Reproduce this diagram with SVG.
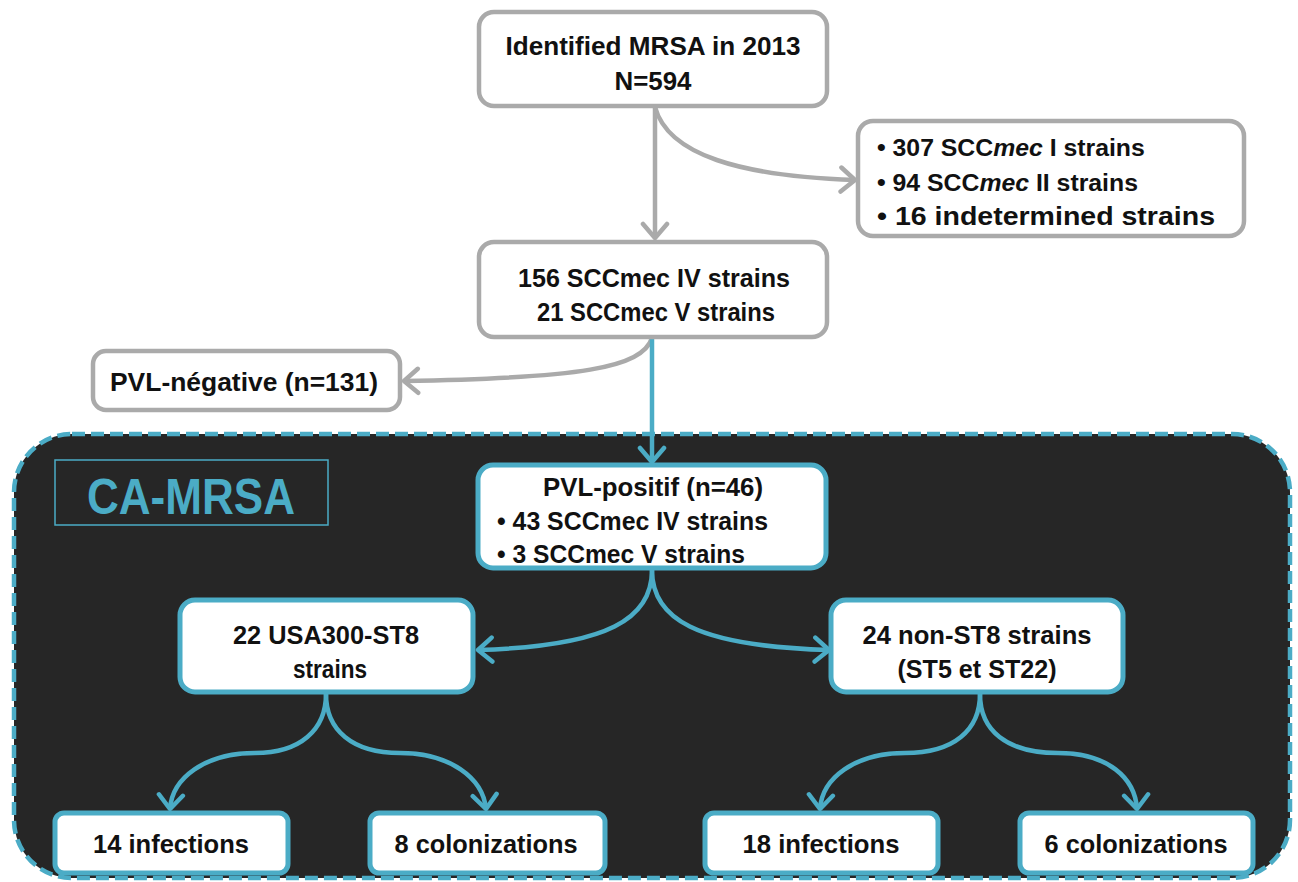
<svg xmlns="http://www.w3.org/2000/svg" width="1298" height="882" viewBox="0 0 1298 882">
<style>
.t{font-family:"Liberation Sans",Arial,sans-serif;font-weight:bold;font-size:26.5px;fill:#111}
.gb{fill:#fff;stroke:#aaaaaa;stroke-width:4.5}
.bb{fill:#fff;stroke:#4bacc6;stroke-width:5}
.gc{fill:none;stroke:#aaaaaa;stroke-width:4.5}
.bc{fill:none;stroke:#4bacc6;stroke-width:4.5}
</style>
<defs>
<marker id="ag" markerWidth="26" markerHeight="30" refX="17" refY="15" orient="auto" markerUnits="userSpaceOnUse">
<path d="M3,3 L17,15 L3,27" fill="none" stroke="#aaaaaa" stroke-width="4.5" stroke-linecap="round" stroke-linejoin="round"/>
</marker>
<marker id="ab" markerWidth="26" markerHeight="30" refX="17" refY="15" orient="auto" markerUnits="userSpaceOnUse">
<path d="M3,3 L17,15 L3,27" fill="none" stroke="#4bacc6" stroke-width="4.5" stroke-linecap="round" stroke-linejoin="round"/>
</marker>
</defs>
<rect width="1298" height="882" fill="#fff"/>
<g id="ca-mrsa-region">
<rect x="14" y="434" width="1276" height="444" rx="58" fill="#262626" stroke="#4bacc6" stroke-width="4.5" stroke-dasharray="13 6"/>
<rect x="55" y="460" width="273" height="65" fill="none" stroke="#4bacc6" stroke-width="1.5"/>
<text x="191" y="514" text-anchor="middle" textLength="208" lengthAdjust="spacingAndGlyphs" style="font-family:'Liberation Sans',Arial,sans-serif;font-weight:bold;font-size:50px;fill:#4bacc6">CA-MRSA</text>
</g>
<g id="connectors">
<path class="gc" d="M655,107 L655,238" marker-end="url(#ag)"/>
<path class="gc" d="M655,107 C668,155 740,176 855,180" marker-end="url(#ag)"/>
<path class="gc" d="M652,338 C642,368 580,378 404,381" marker-end="url(#ag)"/>
<path class="bc" d="M652,338 L652,462" marker-end="url(#ab)"/>
<path class="bc" d="M652,570 C652,618 610,646 478,650" marker-end="url(#ab)"/>
<path class="bc" d="M652,570 C652,618 694,646 829,650" marker-end="url(#ab)"/>
<path class="bc" d="M326,694 C326,730 300,753 255,753 C205,753 172,778 170,809" marker-end="url(#ab)"/>
<path class="bc" d="M326,694 C326,730 352,753 400,753 C450,753 483,778 486,809" marker-end="url(#ab)"/>
<path class="bc" d="M980,694 C980,730 954,753 905,753 C855,753 822,778 820,809" marker-end="url(#ab)"/>
<path class="bc" d="M980,694 C980,730 1006,753 1058,753 C1108,753 1135,778 1137,809" marker-end="url(#ab)"/>
</g>
<g id="n-mrsa">
<rect class="gb" x="479" y="12" width="348" height="94" rx="15"/>
<text class="t" x="653" y="55" text-anchor="middle" textLength="295" lengthAdjust="spacingAndGlyphs">Identified MRSA in 2013</text>
<text class="t" x="653" y="90" text-anchor="middle" textLength="77" lengthAdjust="spacingAndGlyphs">N=594</text>
</g>
<g id="n-other">
<rect class="gb" x="858" y="121" width="386" height="115" rx="15"/>
<text class="t" x="877" y="156" style="font-size:24.8px">• 307 SCC<tspan font-style="italic">mec</tspan> I strains</text>
<text class="t" x="877" y="191" style="font-size:24.8px">• 94 SCC<tspan font-style="italic">mec</tspan> II strains</text>
<text class="t" x="877" y="225" textLength="338" lengthAdjust="spacingAndGlyphs">• 16 indetermined strains</text>
</g>
<g id="n-iv-v">
<rect class="gb" x="479" y="242" width="348" height="95" rx="15"/>
<text class="t" x="654" y="287" text-anchor="middle" textLength="272" lengthAdjust="spacingAndGlyphs">156 SCCmec IV strains</text>
<text class="t" x="656" y="321" text-anchor="middle" textLength="238" lengthAdjust="spacingAndGlyphs">21 SCCmec V strains</text>
</g>
<g id="n-pvl-neg">
<rect class="gb" x="93" y="351" width="307" height="59" rx="13"/>
<text class="t" x="244" y="391" text-anchor="middle" textLength="268" lengthAdjust="spacingAndGlyphs">PVL-négative (n=131)</text>
</g>
<g id="n-pvl-pos">
<rect class="bb" x="478" y="465" width="348" height="103" rx="15"/>
<text class="t" x="653" y="496" text-anchor="middle" textLength="220" lengthAdjust="spacingAndGlyphs">PVL-positif (n=46)</text>
<text class="t" x="497" y="530" textLength="271" lengthAdjust="spacingAndGlyphs">• 43 SCCmec IV strains</text>
<text class="t" x="497" y="563" textLength="248" lengthAdjust="spacingAndGlyphs">• 3 SCCmec V strains</text>
</g>
<g id="n-usa300">
<rect class="bb" x="180" y="600" width="293" height="92" rx="15"/>
<text class="t" x="326" y="644" text-anchor="middle" textLength="186" lengthAdjust="spacingAndGlyphs">22 USA300-ST8</text>
<text class="t" x="330" y="678" text-anchor="middle" textLength="74" lengthAdjust="spacingAndGlyphs">strains</text>
</g>
<g id="n-nonst8">
<rect class="bb" x="831" y="600" width="292" height="92" rx="15"/>
<text class="t" x="977" y="644" text-anchor="middle" textLength="229" lengthAdjust="spacingAndGlyphs">24 non-ST8 strains</text>
<text class="t" x="977" y="678" text-anchor="middle" textLength="159" lengthAdjust="spacingAndGlyphs">(ST5 et ST22)</text>
</g>
<g id="n-inf14">
<rect class="bb" x="55" y="813" width="233" height="60" rx="9"/>
<text class="t" x="171" y="853" text-anchor="middle" textLength="156" lengthAdjust="spacingAndGlyphs">14 infections</text>
</g>
<g id="n-col8">
<rect class="bb" x="370" y="813" width="235" height="60" rx="9"/>
<text class="t" x="486" y="853" text-anchor="middle" textLength="183" lengthAdjust="spacingAndGlyphs">8 colonizations</text>
</g>
<g id="n-inf18">
<rect class="bb" x="705" y="813" width="233" height="60" rx="9"/>
<text class="t" x="821" y="853" text-anchor="middle" textLength="157" lengthAdjust="spacingAndGlyphs">18 infections</text>
</g>
<g id="n-col6">
<rect class="bb" x="1020" y="813" width="233" height="60" rx="9"/>
<text class="t" x="1136" y="853" text-anchor="middle" textLength="183" lengthAdjust="spacingAndGlyphs">6 colonizations</text>
</g>
</svg>
